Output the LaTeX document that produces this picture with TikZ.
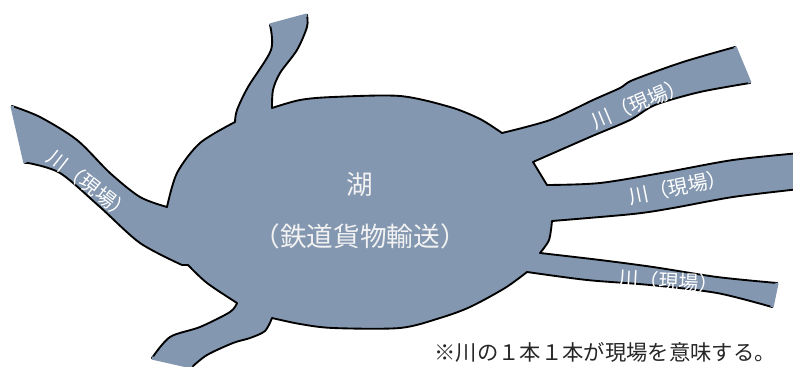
\documentclass[tikz,border=0pt]{standalone}
\usepackage{fontspec}
\setmainfont{Noto Sans CJK JP}
\definecolor{lakeblue}{HTML}{8497B0}

\begin{document}
\begin{tikzpicture}[x=0.75pt,y=-0.75pt,
	shore/.style={fill=lakeblue,draw=black,line width=1.4pt,line join=round},
	mouth/.style={draw=lakeblue,line width=2.4pt},
	rivertext/.style={text=white,inner sep=0pt,font=\fontsize{15}{16}\selectfont},
	laketext/.style={text=white!95!black,inner sep=0pt,font=\fontsize{20}{22}\selectfont}]
	\clip (0,0) rectangle (793,367);
	% lake with its six rivers, one closed outline
	\path[shore] (270,25) -- (307,15)
		-- plot[smooth] coordinates {(307,15) (307,27) (297,50) (280,73) (273,90) (272,108)}
		-- plot[smooth] coordinates {(272,108) (300,100) (333,97) (400,96) (450,107) (480,119) (502,133)}
		-- plot[smooth] coordinates {(502,133) (550,120) (593,100) (620,88) (633,80) (683,62) (735,47)}
		-- (750,83)
		-- plot[smooth] coordinates {(750,83) (700,92) (655,105) (630,120) (590,137) (533,162)}
		-- (547,185)
		-- plot[smooth] coordinates {(547,185) (600,183) (667,172) (733,160) (800,153)}
		-- (800,189)
		-- plot[smooth] coordinates {(800,189) (733,197) (673,208) (633,214) (552,221)}
		-- plot[smooth] coordinates {(552,221) (549,240) (540,253)}
		-- plot[smooth] coordinates {(540,253) (600,260) (653,267) (717,277) (777,283)}
		-- (772,307)
		-- plot[smooth] coordinates {(772,307) (717,293) (650,285) (587,280) (527,272)}
		-- plot[smooth] coordinates {(527,272) (505,288) (470,307) (440,318) (400,328) (333,328) (300,324) (272,318)}
		-- plot[smooth] coordinates {(272,318) (265,331) (250,338) (233,343) (207,355) (192,367)}
		-- (152,358)
		-- plot[smooth] coordinates {(152,358) (170,337) (200,327) (230,312) (237,303)}
		-- plot[smooth] coordinates {(237,303) (207,283) (188,265)}
		-- (182,265)
		-- plot[smooth] coordinates {(182,265) (140,243) (100,207) (60,173) (28,163)}
		-- (25,163) -- (12,106)
		-- plot[smooth] coordinates {(12,106) (40,117) (77,140) (110,173) (140,197) (167,207)}
		-- plot[smooth] coordinates {(167,207) (177,173) (200,143) (235,122)}
		-- plot[smooth] coordinates {(235,122) (237,110) (248,87) (271,50) (270,25)}
		-- cycle;
	% open river ends
	\draw[mouth] (270,25) -- (307,15);
	\draw[mouth] (735,47) -- (750,83);
	\draw[mouth] (777,283) -- (772,307);
	\draw[mouth] (192,367) -- (152,358);
	\draw[mouth] (25,163) -- (12,106);

	\node[laketext] (lake) at (360,185) {湖};
	\node[laketext] (freight) at (360,236) {（鉄道貨物輸送）};

	\node[rivertext,rotate=-38] (riverw) at (90,185) {川（現場）};
	\node[rivertext,rotate=23] (riverne) at (639,103) {川（現場）};
	\node[rivertext,rotate=11] (rivere) at (678,187) {川（現場）};
	\node[rivertext,rotate=-3] (riverse) at (669,281) {川（現場）};

	\node[text=black!85,inner sep=0pt,font=\fontsize{16}{18}\selectfont] (note) at (605,352) {※川の１本１本が現場を意味する。};
\end{tikzpicture}
\end{document}
